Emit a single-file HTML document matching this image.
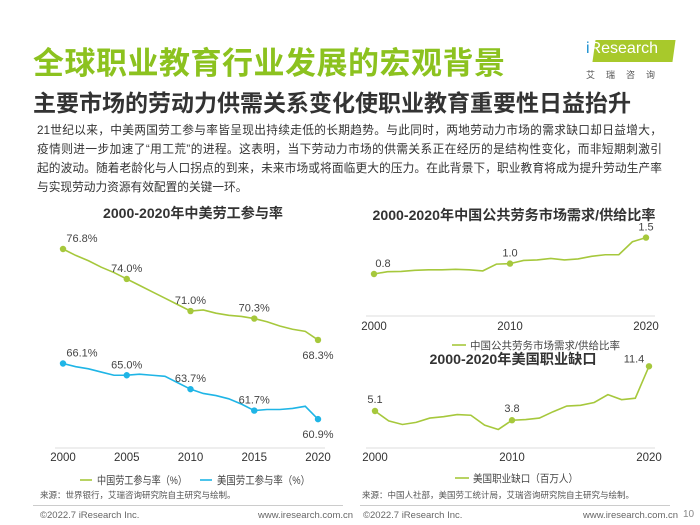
<!DOCTYPE html>
<html><head><meta charset="utf-8">
<style>
body{margin:0;width:700px;height:525px;background:#fff;font-family:"Liberation Sans","Noto Sans CJK SC",sans-serif;position:relative;overflow:hidden;color:#333}
.abs{position:absolute;white-space:nowrap}
.pl{position:absolute;left:37px;width:625px;font-size:11.7px;line-height:19px;text-align:justify;text-align-last:justify;white-space:nowrap;color:#333}
</style></head><body>
<div class="abs" style="left:33px;top:38px;font-size:31px;color:#8cc21f;font-weight:bold;letter-spacing:0.5px">全球职业教育行业发展的宏观背景</div>
<div class="abs" style="left:33px;top:84px;font-size:23px;color:#333;font-weight:bold">主要市场的劳动力供需关系变化使职业教育重要性日益抬升</div>
<div class="abs" style="left:578px;top:36px;width:108px;height:50px">
  <div style="position:absolute;left:16px;top:4px;width:80px;height:22px;background:#a8c92b;transform:skewX(-8deg)"></div>
  <div style="position:absolute;left:8px;top:4px;font-size:16px;color:#fff"><span style="color:#1a8fd0">i</span>Research</div>
  <div style="position:absolute;left:8px;top:32px;font-size:9px;color:#555;letter-spacing:11px">艾瑞咨询</div>
</div>
<div>
<div class="pl" style="top:121px">21世纪以来，中美两国劳工参与率皆呈现出持续走低的长期趋势。与此同时，两地劳动力市场的需求缺口却日益增大，</div>
<div class="pl" style="top:140px">疫情则进一步加速了“用工荒”的进程。这表明，当下劳动力市场的供需关系正在经历的是结构性变化，而非短期刺激引</div>
<div class="pl" style="top:159px">起的波动。随着老龄化与人口拐点的到来，未来市场或将面临更大的压力。在此背景下，职业教育将成为提升劳动生产率</div>
<div class="pl" style="top:178px;text-align-last:left">与实现劳动力资源有效配置的关键一环。</div>
</div>
<svg id="chart" width="700" height="525" style="position:absolute;left:0;top:0" font-family="Liberation Sans, Noto Sans CJK SC, sans-serif"></svg>
<div class="abs" style="left:33px;top:505px;width:310px;height:1px;background:#ccc"></div>
<div class="abs" style="left:360px;top:505px;width:310px;height:1px;background:#ccc"></div>
<div class="abs" style="left:40px;top:510px;font-size:9.5px;color:#666">©2022.7 iResearch Inc.</div>
<div class="abs" style="left:258px;top:510px;font-size:9.5px;color:#666">www.iresearch.com.cn</div>
<div class="abs" style="left:363px;top:510px;font-size:9.5px;color:#666">©2022.7 iResearch Inc.</div>
<div class="abs" style="left:583px;top:510px;font-size:9.5px;color:#666">www.iresearch.com.cn</div>
<div class="abs" style="left:683px;top:509px;font-size:10px;color:#888">10</div>
<script>
const years=[2000,2001,2002,2003,2004,2005,2006,2007,2008,2009,2010,2011,2012,2013,2014,2015,2016,2017,2018,2019,2020];
const cnLfpr=[76.8,76.2,75.7,75.1,74.6,74.0,73.4,72.8,72.2,71.6,71.0,71.1,70.8,70.6,70.5,70.3,70.0,69.6,69.3,69.1,68.3];
const usLfpr=[66.1,65.8,65.6,65.3,65.0,65.0,65.1,65.0,64.9,64.3,63.7,63.3,63.1,62.8,62.3,61.7,61.8,61.8,61.9,62.1,60.9];
const cnRatio=[0.8,0.845,0.85,0.87,0.88,0.88,0.89,0.88,0.86,0.99,1.0,1.06,1.07,1.1,1.07,1.09,1.14,1.17,1.17,1.42,1.5];
const usGap=[5.1,3.7,3.2,3.5,4.1,4.3,4.6,4.5,3.1,2.5,3.8,3.9,4.1,5.0,5.8,5.9,6.3,7.4,6.7,6.9,11.4];
const leftTicks=[2000,2005,2010,2015,2020];
const rightTicks=[2000,2010,2020];
const cnLabelIdx=[0,5,10,15,20];
const usLabelIdx=[0,10,20];
const G='#a6c83c',B='#1fb5e6';
const svg=document.getElementById('chart');const NS='http://www.w3.org/2000/svg';
function mk(t,a,p){const e=document.createElementNS(NS,t);for(const k in a)e.setAttribute(k,a[k]);(p||svg).appendChild(e);return e;}
function txt(x,y,s,o){o=o||{};const e=mk('text',{x:x,y:y,'font-size':o.size||11,fill:o.fill||'#444','text-anchor':o.anchor||'middle','font-weight':o.weight||'normal'});if(o.len){e.setAttribute('textLength',o.len);e.setAttribute('lengthAdjust','spacingAndGlyphs');}e.textContent=s;return e;}
// Left chart
const lx=y=>63+(y-2000)*(255/20), ly=v=>249+(76.8-v)*10.7;
let t=txt(193,218,'2000-2020年中美劳工参与率',{size:14,weight:'bold',fill:'#333',len:180});


let ax=mk('line',{x1:55,x2:325,y1:448,y2:448,stroke:'#ddd','stroke-width':1});


leftTicks.forEach(y=>{const e=txt(lx(y),461,String(y),{size:11.5,fill:'#333'});

});
function series(xf,yf,vals,col,name){
 const pl=mk('polyline',{points:vals.map((v,i)=>xf(years[i])+','+yf(v)).join(' '),fill:'none',stroke:col,'stroke-width':1.6});
 
 
}
function dots(xf,yf,vals,idx,col,name,fmt,offs){
 idx.forEach((i,k)=>{const c=mk('circle',{cx:xf(years[i]),cy:yf(vals[i]),r:3.2,fill:col});
 
 
 const o=offs[k];const l=txt(xf(years[i])+o[0],yf(vals[i])+o[1],fmt(vals[i]),{size:11,fill:'#444'});
 
 });
}
series(lx,ly,cnLfpr,G,'china-lfpr');series(lx,ly,usLfpr,B,'us-lfpr');
const pct=v=>v.toFixed(1)+'%';
dots(lx,ly,cnLfpr,cnLabelIdx,G,'china-lfpr',pct,[[19,-7],[0,-7],[0,-7],[0,-7],[0,19]]);
dots(lx,ly,usLfpr,cnLabelIdx,B,'us-lfpr',pct,[[19,-7],[0,-7],[0,-7],[0,-7],[0,19]]);
let lg=mk('line',{x1:80,x2:92,y1:480,y2:480,stroke:G,'stroke-width':1.6});


t=txt(97,484,'中国劳工参与率（%）',{size:11,anchor:'start',fill:'#444',len:90});


lg=mk('line',{x1:200,x2:212,y1:480,y2:480,stroke:B,'stroke-width':1.6});


t=txt(217,484,'美国劳工参与率（%）',{size:11,anchor:'start',fill:'#444',len:93});


t=txt(40,498,'来源：世界银行，艾瑞咨询研究院自主研究与绘制。',{size:8.5,anchor:'start',fill:'#555'});


// Right top chart
const rx=y=>374+(y-2000)*(272/20), ry=v=>274-(v-0.8)*52;
t=txt(514,220,'2000-2020年中国公共劳务市场需求/供给比率',{size:14,weight:'bold',fill:'#333',len:283});


ax=mk('line',{x1:366,x2:655,y1:316,y2:316,stroke:'#ddd','stroke-width':1});


rightTicks.forEach(y=>{const e=txt(rx(y),330,String(y),{size:11.5,fill:'#333'});

});
series(rx,ry,cnRatio,G,'china-ratio');
dots(rx,ry,cnRatio,usLabelIdx,G,'china-ratio',v=>v.toFixed(1),[[9,-7],[0,-7],[0,-7]]);
lg=mk('line',{x1:452,x2:466,y1:345,y2:345,stroke:G,'stroke-width':1.6});


t=txt(470,349,'中国公共劳务市场需求/供给比率',{size:10.5,anchor:'start',fill:'#444',len:150});


// Right bottom chart
const bx=y=>375+(y-2000)*(274/20), by=v=>411-(v-5.1)*7.1;
t=txt(513,364,'2000-2020年美国职业缺口',{size:14,weight:'bold',fill:'#333',len:167});


ax=mk('line',{x1:366,x2:655,y1:448,y2:448,stroke:'#ddd','stroke-width':1});


rightTicks.forEach(y=>{const e=txt(bx(y),461,String(y),{size:11.5,fill:'#333'});

});
series(bx,by,usGap,G,'us-job-gap');
dots(bx,by,usGap,usLabelIdx,G,'us-job-gap',v=>v.toFixed(1),[[0,-8],[0,-8],[-15,-4]]);
lg=mk('line',{x1:455,x2:469,y1:478,y2:478,stroke:G,'stroke-width':1.6});


t=txt(473,482,'美国职业缺口（百万人）',{size:10.5,anchor:'start',fill:'#444',len:105});


t=txt(362,498,'来源：中国人社部，美国劳工统计局，艾瑞咨询研究院自主研究与绘制。',{size:8.5,anchor:'start',fill:'#555'});


</script>
</body></html>
